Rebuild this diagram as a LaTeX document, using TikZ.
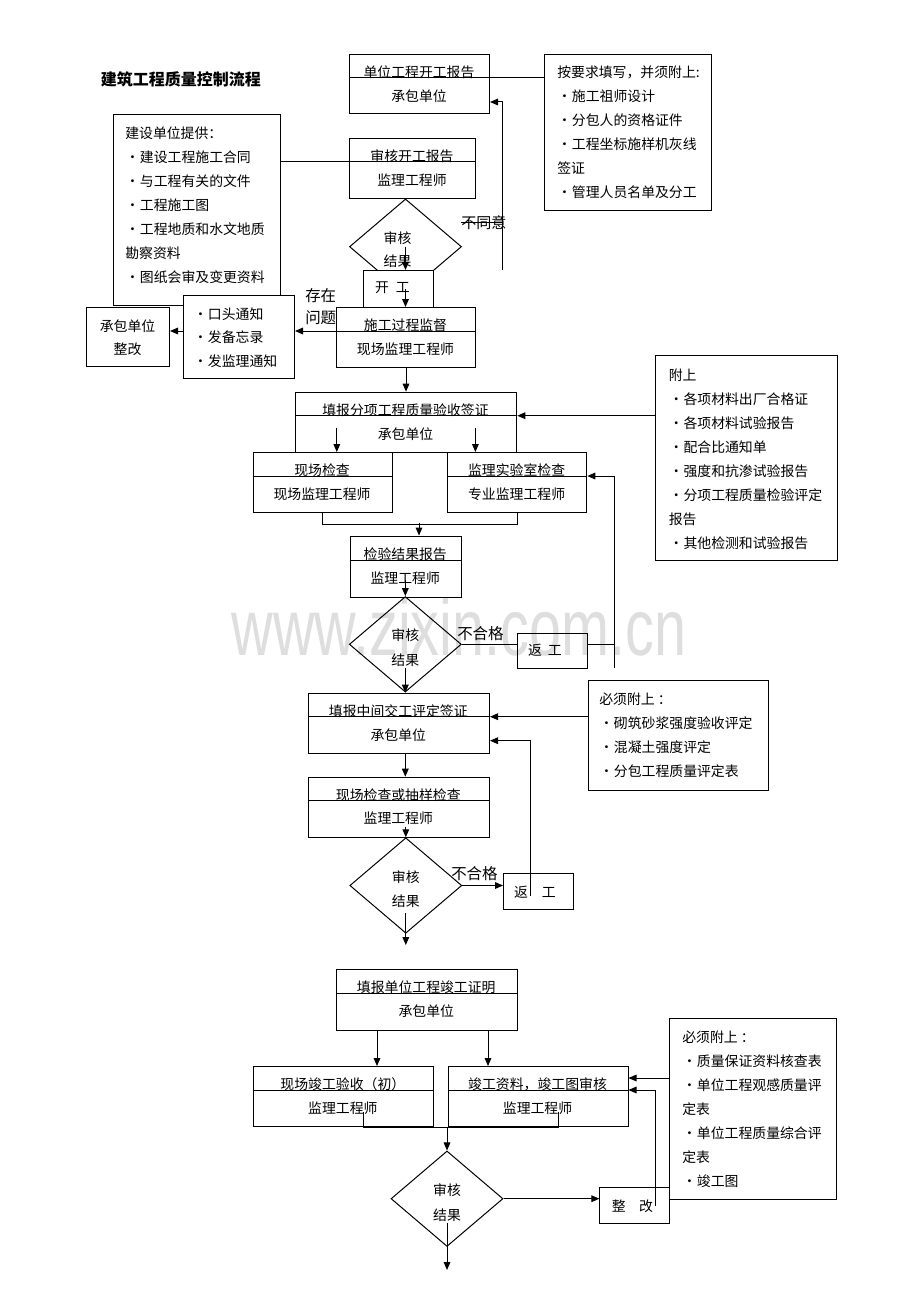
\documentclass[tikz,border=0pt]{standalone}
\usepackage{fontspec}
\setmainfont{Noto Sans CJK SC}
\newfontfamily\wmfont{Liberation Sans}
\usetikzlibrary{arrows.meta,shapes.geometric,calc}
\newcommand\blt{\makebox[11pt][c]{•}}
\tikzset{
 bx/.style={draw, line width=0.75pt, inner sep=0pt, rectangle, anchor=north west},
 wbx/.style={bx, fill=white},
 tx/.style={inner sep=0pt, font=\fontsize{10.4pt}{12pt}\selectfont},
 ltx/.style={tx, anchor=west},
 lbl/.style={inner sep=0pt, anchor=west, font=\fontsize{11.6pt}{14pt}\selectfont},
 dia/.style={draw, diamond, line width=0.75pt, inner sep=0pt, minimum width=84pt, minimum height=71.6pt},
 ln/.style={line width=0.75pt},
 arr/.style={ln, -{Triangle[length=6pt,width=5pt]}},
 wm/.style={inner sep=0pt, anchor=base, text=black!13, xscale=0.72, font=\wmfont\fontsize{60pt}{60pt}\selectfont},
}
% two-line box: name, x1, y1, x2, y2, divider y, text1, text2
\newcommand\tbox[8]{%
 \node[bx, minimum width={(#4-#2)*0.75pt}, minimum height={(#5-#3)*0.75pt}] (#1) at (#2,#3) {};
 \draw[ln] ([yshift={-(#6-#3)*0.75pt}]#1.north west) -- ([yshift={-(#6-#3)*0.75pt}]#1.north east);
 \node[tx] (#1-t) at ({(#2+#4)/2},{#6-6}) {#7};
 \node[tx] (#1-b) at ({(#2+#4)/2},{#6+18}) {#8};
}
% plain box: name, x1, y1, x2, y2, style
\newcommand\pbox[6]{%
 \node[#6, minimum width={(#4-#2)*0.75pt}, minimum height={(#5-#3)*0.75pt}] (#1) at (#2,#3) {};
}
% list lines: x, y0, name, step, items
\newcommand\lst[5]{%
 \foreach \itm [count=\k from 0] in {#5} {\node[ltx] (#3-\k) at (#1,{#2+#4*\k}) {\itm};}
}
\begin{document}
\begin{tikzpicture}[x=0.75pt,y=-0.75pt]
\useasboundingbox (0,0) rectangle (920,1302);
\fill[white] (0,0) rectangle (920,1302);
\node[wm] (wm) at (459,655) {www.zixin.com.cn};
\node[inner sep=0pt, anchor=west, font=\fontsize{12pt}{14pt}\selectfont\bfseries] (title) at (100.5,79) {建筑工程质量控制流程};

% left info box and its overlays
\pbox{D}{113}{114}{280}{305}{bx}
\lst{125}{133}{Dl}{24}{{建设单位提供：},{\blt 建设工程施工合同},{\blt 与工程有关的文件},{\blt 工程施工图},{\blt 工程地质和水文地质},{勘察资料},{\blt 图纸会审及变更资料}}
\pbox{E}{86}{307}{169}{366}{wbx}
\node[tx] (E-t) at (127.5,326) {承包单位};
\node[tx] (E-b) at (127.5,349) {整改};
\pbox{F}{183}{295}{294}{378}{wbx}
\lst{193}{314}{Fl}{23.5}{{\blt 口头通知},{\blt 发备忘录},{\blt 发监理通知}}

% top
\tbox{A}{349}{54}{489}{113}{78}{单位工程开工报告}{承包单位}
\pbox{B}{544}{54}{711}{210}{bx}
\lst{557}{72}{Bl}{24}{{按要求填写，并须附上:},{\blt 施工祖师设计},{\blt 分包人的资格证件},{\blt 工程坐标施样机灰线},{签证},{\blt 管理人员名单及分工}}
\tbox{C}{349}{138}{475}{198}{162}{审核开工报告}{监理工程师}
\node[dia] (D1) at (405.5,246.7) {};
\node[tx] (D1-t) at (397.5,237.7) {审核};
\node[tx] (D1-b) at (397.5,261) {结果};
\pbox{KG}{363}{270}{433}{307}{wbx}
\node[tx] (KG-t) at (392.5,288) {开\hspace{5.25pt}工};
\tbox{G}{336}{307}{475}{367}{331}{施工过程监督}{现场监理工程师}
\node[lbl] (cz1) at (305,296) {存在};
\node[lbl] (cz2) at (305,318) {问题};
\node[lbl, font=\fontsize{11.3pt}{14pt}\selectfont] (bty) at (461,222.3) {不同意};

% middle
\tbox{H}{294.7}{391.7}{516.3}{452}{415.7}{填报分项工程质量验收签证}{承包单位}
\tbox{I}{252.6}{452}{391.5}{511.7}{476}{现场检查}{现场监理工程师}
\tbox{J}{447}{452}{586.3}{511.7}{476}{监理实验室检查}{专业监理工程师}
\pbox{M}{655.2}{355}{837}{560}{bx}
\lst{668.6}{375}{Ml}{24}{{附上},{\blt 各项材料出厂合格证},{\blt 各项材料试验报告},{\blt 配合比通知单},{\blt 强度和抗渗试验报告},{\blt 分项工程质量检验评定},{报告},{\blt 其他检测和试验报告}}
\tbox{K}{349.5}{535.5}{461}{597}{560}{检验结果报告}{监理工程师}
\node[dia] (D2) at (405.3,644.3) {};
\node[tx] (D2-t) at (405.3,635.5) {审核};
\node[tx] (D2-b) at (405.3,660) {结果};
\node[lbl] (bhg1) at (457,633.5) {不合格};
\pbox{RW1}{516.7}{632.7}{586.7}{667.7}{bx}
\node[tx] (RW1-t) at (545,650) {返\hspace{4.5pt}工};
\tbox{L}{307.6}{692.7}{489}{752.7}{716.7}{填报中间交工评定签证}{承包单位}
\pbox{N}{587.5}{680}{767.5}{789.5}{bx}
\lst{599}{699}{Nl}{24}{{必须附上 ：},{\blt 砌筑砂浆强度验收评定},{\blt 混凝土强度评定},{\blt 分包工程质量评定表}}
\tbox{O}{307.6}{776.7}{489}{837}{800.7}{现场检查或抽样检查}{监理工程师}
\node[dia] (D3) at (405.8,885.5) {};
\node[tx] (D3-t) at (405.8,876.7) {审核};
\node[tx] (D3-b) at (405.8,901) {结果};
\node[lbl] (bhg2) at (451,873.3) {不合格};
\pbox{RW2}{503}{873.3}{572.8}{909.3}{bx}
\node[tx] (RW2-t) at (535,892) {返\hspace{10.5pt}工};

% bottom
\tbox{P}{335.7}{969}{516.8}{1030}{993}{填报单位工程竣工证明}{承包单位}
\tbox{Q}{252.7}{1066}{433}{1126}{1090}{现场竣工验收（初）}{监理工程师}
\tbox{R}{447.6}{1066}{627.5}{1126}{1090}{竣工资料，竣工图审核}{监理工程师}
\pbox{S}{669.4}{1017.7}{836}{1198.7}{bx}
\lst{682}{1037}{Sl}{24}{{必须附上 ：},{\blt 质量保证资料核查表},{\blt 单位工程观感质量评},{定表},{\blt 单位工程质量综合评},{定表},{\blt 竣工图}}
\node[dia] (D4) at (447,1198.7) {};
\node[tx] (D4-t) at (447,1190) {审核};
\node[tx] (D4-b) at (447,1215) {结果};
\pbox{ZG}{599.4}{1186.7}{669.4}{1222.7}{bx}
\node[tx] (ZG-t) at (632.4,1206) {整\hspace{10pt}改};

% ---------------- connectors ----------------
\draw[ln] ([yshift=-18pt]A.north east) -- ([yshift=-18pt]B.north west);
\draw[ln] ([yshift=-36pt]D.north east) -- ([yshift=-18pt]C.north west);
\draw[arr] (D1.center) -- (D1.center |- KG.north);
\draw[arr] (D1.center |- KG.center) -- (D1.center |- G.north);
\coordinate (ret1) at (502.3,270);
\draw[arr] (ret1) |- ([yshift=-36pt]A.north east);
\coordinate (bt) at (461,222.3);
\draw[ln] (bt) -- (bt -| ret1);
\coordinate (g1) at ([yshift=-18pt]G.north west);
\draw[arr] (g1) -- (g1 -| F.east);
\draw[arr] (g1 -| F.west) -- (g1 -| E.east);
\draw[arr] (G.south) -- (G.south |- H.north);
\coordinate (h1) at (336.8,427.7);
\coordinate (h2) at (475.4,427.7);
\draw[arr] (h1) -- (h1 |- I.north);
\draw[arr] (h2) -- (h2 |- J.north);
\draw[ln] (I.south) -- ++(0,11.6) -| (J.south);
\coordinate (k1) at (419,523.3);
\draw[arr] (k1) -- (k1 |- K.north);
\coordinate (k2) at (405.3,580);
\draw[arr] (k2) -- (D2.north);
\coordinate (d2a) at (405.3,668);
\draw[arr] (d2a) -- (d2a |- L.north);
\draw[ln] (D2.east) -- (D2.east -| RW1.west);
\coordinate (v1) at (614.3,667.7);
\draw[ln] (D2.east -| RW1.east) -- (D2.east -| v1);
\coordinate (jd) at ([yshift=-18pt]J.north east);
\draw[arr] (v1) |- (jd);
\coordinate (hd) at ([yshift=-18pt]H.north east);
\draw[arr] (M.west |- hd) -- (hd);
\coordinate (ld) at ([yshift=-18pt]L.north east);
\draw[arr] (N.west |- ld) -- (ld);
\draw[arr] (D2.south |- L.south) -- (D2.south |- O.north);
\coordinate (o1) at (405.8,827);
\draw[arr] (o1) -- (D3.north);
\draw[arr] (D3.east) -- (D3.east -| RW2.west);
\coordinate (r2) at (530.7,896);
\coordinate (ld2) at ([yshift=-36pt]L.north east);
\draw[arr] (r2) |- (ld2);
\coordinate (d3a) at (405.8,913);
\coordinate (d3e) at (405.8,945);
\draw[arr] (d3a) -- (d3e);
\coordinate (p1) at (377,1030);
\coordinate (p2) at (488,1030);
\draw[arr] (p1) -- (p1 |- Q.north);
\draw[arr] (p2) -- (p2 |- R.north);
\coordinate (q1) at (363.5,1112);
\coordinate (q2) at (558,1112);
\draw[ln] (q1) |- (q2 |- Q.south) -- (q2);
\draw[arr] (D4.north |- Q.south) -- (D4.north);
\draw[arr] (D4.east) -- (D4.east -| ZG.west);
\coordinate (z1) at (655,1206);
\draw[arr] (z1) |- ([yshift=-18pt]R.north east);
\coordinate (rs) at ([yshift=-9pt]R.north east);
\draw[arr] (S.west |- rs) -- (rs);
\coordinate (d4a) at (447,1223);
\coordinate (d4e) at (447,1270);
\draw[arr] (d4a) -- (d4e);
\end{tikzpicture}
\end{document}
